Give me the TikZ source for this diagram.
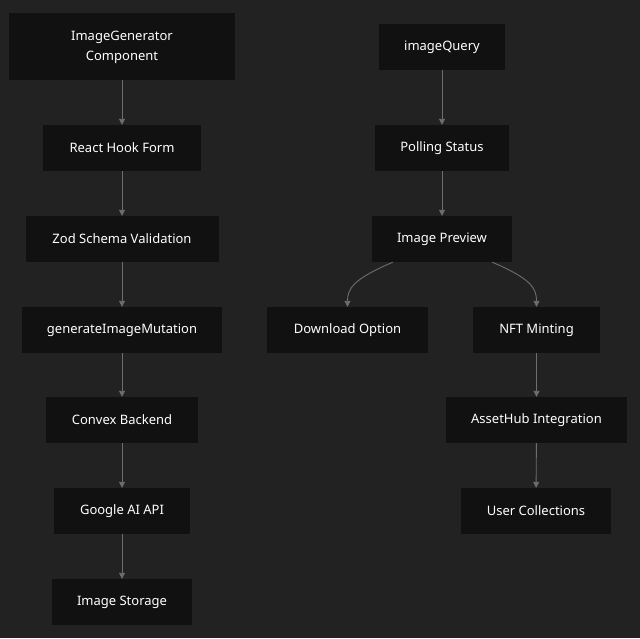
\documentclass[tikz,border=0pt]{standalone}
\usepackage{fontspec}
\setmainfont{Noto Sans}
\usetikzlibrary{arrows.meta}
\definecolor{bg}{HTML}{222222}
\definecolor{nodefill}{HTML}{111111}
\definecolor{edge}{HTML}{6E6E6E}
\tikzset{
  box/.style={draw=none, fill=nodefill, text=white, inner sep=0pt, align=center,
    font=\fontsize{13}{20}\selectfont, anchor=center},
  link/.style={draw=edge, line width=0.9pt, -{Triangle[length=6pt,width=6pt]}},
}
\begin{document}
\begin{tikzpicture}[x=1pt,y=-1pt]
\fill[bg] (0,0) rectangle (640,638);
\useasboundingbox (0,0) rectangle (640,638);
% left column
\node[box, minimum width=226pt, minimum height=67pt] (igc) at (122,46.5) {\strut ImageGenerator\\\strut Component};
\node[box, minimum width=158pt, minimum height=46pt] (rhf) at (122,148) {React Hook Form};
\node[box, minimum width=193pt, minimum height=46pt] (zod) at (122,239) {Zod Schema Validation};
\node[box, minimum width=200pt, minimum height=46pt] (gim) at (122,330) {generateImageMutation};
\node[box, minimum width=152pt, minimum height=46pt] (cb) at (122,420) {Convex Backend};
\node[box, minimum width=136pt, minimum height=46pt] (gai) at (122,511) {Google AI API};
\node[box, minimum width=140pt, minimum height=46pt] (ist) at (122,602) {Image Storage};
% right column
\node[box, minimum width=126pt, minimum height=46pt] (iq) at (442,47) {imageQuery};
\node[box, minimum width=134pt, minimum height=46pt] (ps) at (442,148) {Polling Status};
\node[box, minimum width=140pt, minimum height=46pt] (ip) at (442,239) {Image Preview};
\node[box, minimum width=161pt, minimum height=46pt] (dl) at (347.5,330) {Download Option};
\node[box, minimum width=127pt, minimum height=46pt] (nft) at (536.5,330) {NFT Minting};
\node[box, minimum width=181pt, minimum height=46pt] (ah) at (536.5,420) {AssetHub Integration};
\node[box, minimum width=150pt, minimum height=46pt] (uc) at (536,511) {User Collections};
% edges
\draw[link] (igc) -- (rhf);
\draw[link] (rhf) -- (zod);
\draw[link] (zod) -- (gim);
\draw[link] (gim) -- (cb);
\draw[link] (cb) -- (gai);
\draw[link] (gai) -- (ist);
\draw[link] (iq) -- (ps);
\draw[link] (ps) -- (ip);
\draw[link] ([xshift=21pt]ip.south west) .. controls +(-40,17) and +(0,-18) .. (dl.north);
\draw[link] ([xshift=-20pt]ip.south east) .. controls +(40,17) and +(0,-18) .. (nft.north);
\draw[link] (nft) -- (ah);
\draw[link] (ah) -- (uc);
\end{tikzpicture}
\end{document}
